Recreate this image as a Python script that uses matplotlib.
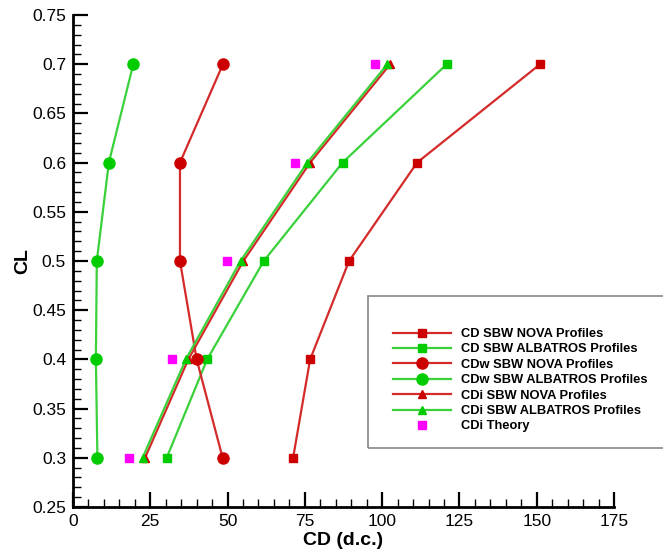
import matplotlib
matplotlib.use("Agg")
import matplotlib.pyplot as plt
from matplotlib.ticker import MultipleLocator, FuncFormatter
from matplotlib.patches import Rectangle

plt.rcParams['font.family'] = ['Liberation Sans', 'DejaVu Sans']

CL = [0.3, 0.4, 0.5, 0.6, 0.7]
cd_nova = [71.2, 76.7, 89.3, 111.3, 151.1]
cd_albatros = [30.3, 43.4, 61.7, 87.2, 120.9]
cdw_nova = [48.4, 40.0, 34.6, 34.6, 48.5]
cdw_albatros = [7.9, 7.4, 7.7, 11.6, 19.5]
cdi_nova = [23.3, 37.3, 55.1, 76.7, 102.6]
cdi_albatros = [22.5, 36.5, 54.2, 75.8, 101.7]
cdi_theory = [18.0, 31.9, 49.9, 71.8, 97.7]

labels = ["CD SBW NOVA Profiles", "CD SBW ALBATROS Profiles",
          "CDw SBW NOVA Profiles", "CDw SBW ALBATROS Profiles",
          "CDi SBW NOVA Profiles", "CDi SBW ALBATROS Profiles",
          "CDi Theory"]

RED = "#d42a2a"
REDM = "#cc0000"
GREEN = "#3ad13a"
GREENM = "#00cc00"
MAG = "#ff00ff"

fig = plt.figure(figsize=(6.63, 5.56), dpi=100)
W, H = 663, 556
ax = fig.add_axes([73 / W, 1 - 507 / H, (614 - 73) / W, (507 - 15) / H])

lw = 1.6
h = []
h += ax.plot(cd_nova, CL, '-s', color=RED, mfc=REDM, mec=REDM, ms=6, lw=lw)
h += ax.plot(cd_albatros, CL, '-s', color=GREEN, mfc=GREENM, mec=GREENM, ms=6, lw=lw)
h += ax.plot(cdw_nova, CL, '-o', color=RED, mfc=REDM, mec=REDM, ms=8, lw=lw)
h += ax.plot(cdw_albatros, CL, '-o', color=GREEN, mfc=GREENM, mec=GREENM, ms=8, lw=lw)
h += ax.plot(cdi_nova, CL, '-^', color=RED, mfc=REDM, mec=REDM, ms=6, lw=lw)
h += ax.plot(cdi_albatros, CL, '-^', color=GREEN, mfc=GREENM, mec=GREENM, ms=6, lw=lw)
h += ax.plot(cdi_theory, CL, 's', color=MAG, mfc=MAG, mec=MAG, ms=6, lw=0)

ax.set_xlim(0, 175)
ax.set_ylim(0.25, 0.75)
ax.xaxis.set_major_locator(MultipleLocator(25))
ax.xaxis.set_minor_locator(MultipleLocator(5))
ax.yaxis.set_major_locator(MultipleLocator(0.05))
ax.yaxis.set_minor_locator(MultipleLocator(0.01))
ax.yaxis.set_major_formatter(FuncFormatter(lambda v, p: ('%.2f' % v).rstrip('0').rstrip('.') if v else '0'))

for s in ['top', 'right']:
    ax.spines[s].set_visible(False)
for s in ['left', 'bottom']:
    ax.spines[s].set_linewidth(2)
ax.tick_params(which='major', direction='in', length=11, width=1.6, labelsize=12.5, pad=5)
ax.tick_params(which='minor', direction='in', length=6, width=1.0)

ax.set_xlabel("CD (d.c.)", fontsize=14, fontweight='bold', labelpad=2)
ax.set_ylabel("CL", fontsize=14, fontweight='bold')
ax.yaxis.set_label_coords((31 - 73) / 541, 0.5)

# legend frame
fig.patches.append(Rectangle((368 / W, 1 - 448 / H), (670 - 368) / W, (448 - 296) / H,
                             transform=fig.transFigure, fill=False, ec='#888888', lw=1.2))
leg = fig.legend(h, labels, loc='upper left', bbox_to_anchor=(393 / W, 1 - 328 / H),
                 frameon=False, prop={'weight': 'bold', 'size': 9.3},
                 handlelength=4.5, handletextpad=0.8, labelspacing=0.26, borderaxespad=0,
                 borderpad=0)

fig.savefig("out.png", dpi=100)
